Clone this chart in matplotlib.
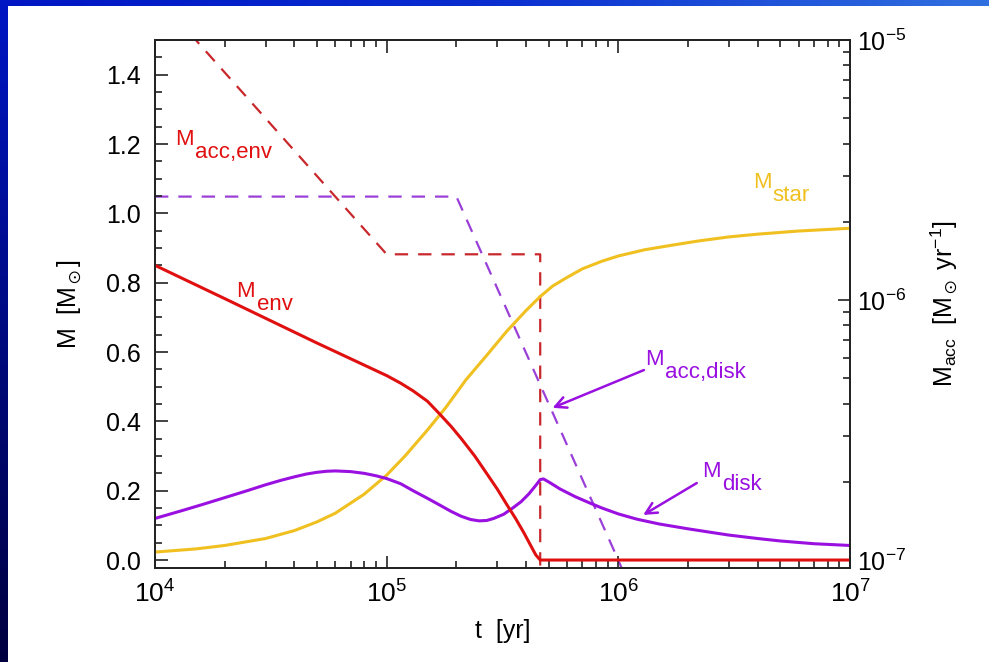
import numpy as np
import matplotlib
matplotlib.use("Agg")
import matplotlib.pyplot as plt
from matplotlib.colors import LinearSegmentedColormap
from matplotlib.ticker import MultipleLocator, LogLocator, NullFormatter

plt.rcParams['font.family'] = ['Liberation Sans', 'DejaVu Sans']
plt.rcParams['mathtext.fontset'] = 'custom'
plt.rcParams['mathtext.rm'] = 'Liberation Sans'
plt.rcParams['mathtext.it'] = 'Liberation Sans'
plt.rcParams['mathtext.default'] = 'regular'

# masses (left axis, solar masses)
t_env = [1e4, 2e4, 5e4, 1e5, 1.15e5, 1.3e5, 1.5e5, 1.7e5, 1.9e5, 2.1e5, 2.4e5, 2.7e5,
         3e5, 3.3e5, 3.6e5, 3.9e5, 4.2e5, 4.4e5, 4.6e5, 1e7]
m_env = [0.85, 0.754, 0.626, 0.532, 0.51, 0.488, 0.458, 0.42, 0.385, 0.35, 0.30, 0.25,
         0.205, 0.16, 0.12, 0.08, 0.04, 0.015, 0.0, 0.0]

t_star = [1e4, 1.5e4, 2e4, 3e4, 4e4, 5e4, 6e4, 8e4, 1e5, 1.2e5, 1.5e5, 1.8e5, 2.2e5,
          2.7e5, 3.3e5, 4e5, 4.6e5, 5.2e5, 6e5, 7e5, 8.5e5, 1e6, 1.3e6, 1.7e6, 2.2e6,
          3e6, 4e6, 6e6, 1e7]
m_star = [0.023, 0.032, 0.042, 0.062, 0.085, 0.11, 0.135, 0.19, 0.245, 0.30, 0.375,
          0.44, 0.52, 0.59, 0.66, 0.72, 0.76, 0.79, 0.815, 0.84, 0.862, 0.877, 0.895,
          0.908, 0.92, 0.932, 0.94, 0.949, 0.957]

t_disk = [1e4, 1.3e4, 1.6e4, 2e4, 2.5e4, 3e4, 3.5e4, 4e4, 4.5e4, 5e4, 5.5e4, 6e4, 7e4,
          8e4, 9e4, 1e5, 1.15e5, 1.3e5, 1.5e5, 1.7e5, 1.9e5, 2.1e5, 2.3e5, 2.5e5, 2.7e5,
          2.9e5, 3.2e5, 3.5e5, 3.8e5, 4.1e5, 4.4e5, 4.6e5, 4.75e5, 5.1e5, 5.6e5, 6.5e5,
          7.5e5, 8.5e5, 1e6, 1.2e6, 1.5e6, 2e6, 2.5e6, 3e6, 4e6, 5e6, 7e6, 1e7]
m_disk = [0.12, 0.142, 0.16, 0.18, 0.2, 0.217, 0.23, 0.24, 0.248, 0.253, 0.256, 0.257,
          0.255, 0.25, 0.243, 0.235, 0.22, 0.2, 0.178, 0.158, 0.14, 0.126, 0.117, 0.113,
          0.114, 0.12, 0.132, 0.15, 0.168, 0.19, 0.215, 0.232, 0.234, 0.222, 0.205,
          0.183, 0.165, 0.15, 0.133, 0.118, 0.104, 0.09, 0.08, 0.072, 0.062, 0.055,
          0.047, 0.042]

# accretion rates (right axis, Msun/yr)
t_acc_env = [1e4, 1e5, 4.6e5, 4.6e5]
acc_env = [1.5e-5, 1.5e-6, 1.5e-6, 5e-8]
t_acc_disk = [1e4, 2e5, 1e6, 1.05e6]
acc_disk = [2.5e-6, 2.5e-6, 1e-7, 9e-8]

red = '#e01010'
red_d = '#c8282c'
gold = '#f0c020'
purple = '#9a10e0'
purple_d = '#9a40d8'

fig = plt.figure(figsize=(9.89, 6.62), dpi=100)
W, H = 989, 662

# blue slide frame
top_cm = LinearSegmentedColormap.from_list('top', ['#0016c4', '#0a2ed0', '#3070e0'])
side_cm = LinearSegmentedColormap.from_list('side', ['#0016c4', '#000a80', '#000040'])
bt = fig.add_axes([0, 1 - 6 / H, 1, 6 / H], zorder=-5)
bt.imshow(np.linspace(0, 1, 256)[None, :], cmap=top_cm, aspect='auto')
bt.axis('off')
bs = fig.add_axes([0, 0, 8 / W, 1], zorder=-5)
bs.imshow(np.linspace(0, 1, 256)[:, None], cmap=side_cm, aspect='auto')
bs.axis('off')

ax = fig.add_axes([155 / W, 1 - 568 / H, 695 / W, 528 / H])
ax.set_xscale('log')
ax.set_xlim(1e4, 1e7)
ax.set_ylim(-0.023, 1.5)

ax2 = ax.twinx()
ax2.set_yscale('log')
ax2.set_ylim(10 ** -7.03, 1e-5)

ax2.plot(t_acc_env, acc_env, color=red_d, lw=1.6, ls=(0, (6, 4.5)))
ax2.plot(t_acc_disk, acc_disk, color=purple_d, lw=1.6, ls=(0, (6, 4.5)))

ax.plot(t_star, m_star, color=gold, lw=2.2)
ax.plot(t_disk, m_disk, color=purple, lw=2.2)
ax.plot(t_env, m_env, color=red, lw=2.2)
ax.set_zorder(ax2.get_zorder() + 1)
ax.patch.set_visible(False)

fs = 16


def label(x, y, sub, color):
    tm = ax.text(x, y, 'M', color=color, fontsize=fs, va='baseline')
    ax.annotate(sub, xy=(1, 0), xycoords=tm, xytext=(1, -6),
                textcoords='offset points', color=color, fontsize=fs,
                va='baseline', ha='left')


label(1.22e4, 1.198, 'acc,env', red)
label(2.25e4, 0.759, 'env', red)
label(3.8e6, 1.074, 'star', gold)
label(1.3e6, 0.563, 'acc,disk', purple)
label(2.3e6, 0.24, 'disk', purple)

arrow = dict(arrowstyle='->', color=purple, lw=1.8, mutation_scale=20,
             shrinkA=0, shrinkB=0)
ax.annotate('', xy=(5.2e5, 0.439), xytext=(1.29e6, 0.548), arrowprops=arrow)
ax.annotate('', xy=(1.28e6, 0.13), xytext=(2.18e6, 0.222), arrowprops=arrow)

yt = np.arange(0, 1.41, 0.2)
ax.set_yticks(yt)
ax.set_yticklabels(['%.1f' % v for v in yt])
ax.yaxis.set_minor_locator(MultipleLocator(0.05))
ax.xaxis.set_major_locator(LogLocator(base=10, numticks=10))
ax.xaxis.set_minor_locator(LogLocator(base=10, subs=np.arange(2, 10), numticks=10))
ax.xaxis.set_minor_formatter(NullFormatter())
ax.tick_params(which='both', direction='in', top=True, right=False,
               color='#222222', width=1.2)
ax.tick_params(axis='y', labelsize=18, pad=10)
ax.tick_params(axis='x', labelsize=19, pad=9)
ax.tick_params(which='major', length=9)
ax.tick_params(which='minor', length=5)
ax2.tick_params(which='both', direction='in', labelsize=18, color='#222222', width=1.2)
ax2.tick_params(which='major', length=9, pad=5)
ax2.tick_params(which='minor', length=5)
ax2.yaxis.set_minor_formatter(NullFormatter())

for a in (ax, ax2):
    for s in a.spines.values():
        s.set_linewidth(1.3)
        s.set_color('#222222')

ax.set_xlabel('t  [yr]', fontsize=18, labelpad=8)
ax.set_ylabel(r'M  [M$_\odot$]', fontsize=18, labelpad=16)
ax2.set_ylabel(r'M$_{acc}$  [M$_\odot$ yr$^{-1}$]', fontsize=18, labelpad=16)

fig.savefig('out.png', dpi=100)
